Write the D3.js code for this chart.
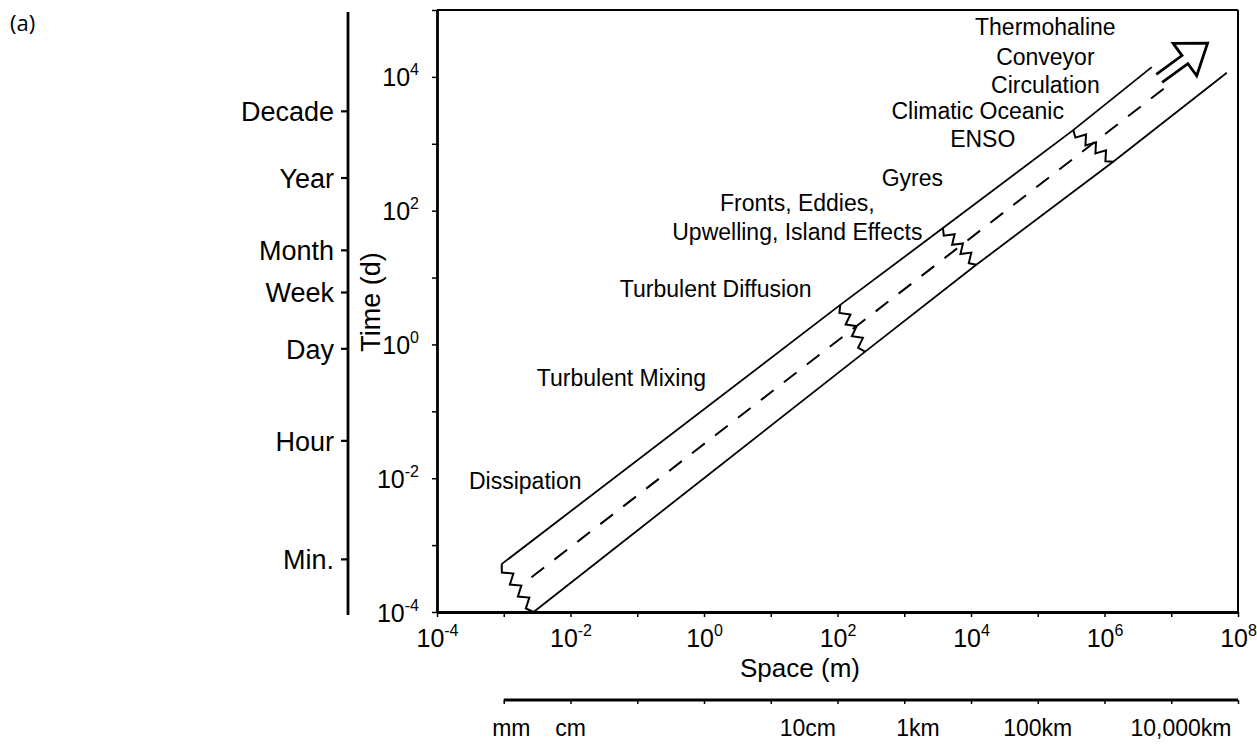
<!DOCTYPE html>
<html><head><meta charset="utf-8">
<script src="https://cdn.jsdelivr.net/npm/d3@7"></script>
<style>
body{margin:0;background:#fff;}
svg text{font-family:"Liberation Sans",Arial,sans-serif;fill:#000;}
</style></head><body>
<svg id="chart" width="1257" height="750"></svg>
<script>
// ---------- data ----------
const spaceTicks = [1e-4,1e-3,1e-2,1e-1,1,1e1,1e2,1e3,1e4,1e5,1e6,1e7,1e8];
const spaceLabelExps = [-4,-2,0,2,4,6,8];
const timeTicks = [1e-4,1e-3,1e-2,1e-1,1,1e1,1e2,1e3,1e4,1e5];
const timeLabelExps = [-4,-2,0,2,4];
const unitNames = ["Min.","Hour","Day","Week","Month","Year","Decade"];
const unitDays = [1/1440,1/24,1,7,30,365,3650];
const lengthNames = ["mm","cm","10cm","1km","100km","10,000km"];
const lengthPos = [1.3e-3,1e-2,36,1.6e3,1e5,1.4e7];
const lengthTicks = [1e-3,1e-2,1e-1,1,1e1,1e2,1e3,1e4,1e5,1e6,1e7,1e8];
// band edges (space m, time d); the first four points are the break points
const upperLine = [[9.3e-4,5.2e-4],[110,3.9],[3800,55],[3.4e5,1600],[5.1e6,1.4e4]];
const lowerLine = [[2.8e-3,1.0e-4],[260,0.78],[1.2e4,15.5],[1.35e6,540],[6.8e7,1.15e4]];
const centreLine = [[2.6e-3,3.3e-4],[9.5e6,7.8e3]];
const arrowFrom = [6.6e6,9.5e3];
const arrowTo = [3.5e7,3.2e4];
const annText = ["Dissipation","Turbulent Mixing","Turbulent Diffusion","Fronts, Eddies,","Upwelling, Island Effects","Gyres","Climatic Oceanic","ENSO","Thermohaline","Conveyor","Circulation"];
const annX = [2.1e-3,0.058,1.5,25,25,1320,1.26e4,1.5e4,1.3e5,1.3e5,1.3e5];
const annY = [9.1e-3,0.32,6.8,129,48,309,3090,1175,5.5e4,2.0e4,7.6e3];

// ---------- layout ----------
const L=437,R=1238,T=10,B=612;
const svg = d3.select("#chart");
const x = d3.scaleLog().domain([1e-4,1e8]).range([L,R]);
const y = d3.scaleLog().domain([1e-4,1e5]).range([B,T]);
const yT = d3.scaleLog().domain([1e-4,1e5]).range([615,15]);

function powLabel(sel, big, small, up){
  sel.each(function(d){
    const t=d3.select(this);
    t.append("tspan").style("font-size",big+"px").text("10");
    t.append("tspan").style("font-size",small+"px").attr("dy",-up).text(Math.round(Math.log10(d)));
  });
}

// panel label
svg.append("text").attr("x",10).attr("y",31).style("font-size","22px").style("font-family","'Open Sans',sans-serif").text("(a)");

// frame
svg.append("line").attr("x1",L).attr("x2",R).attr("y1",T).attr("y2",T).attr("stroke","#000").attr("stroke-width",2);
svg.append("line").attr("x1",R).attr("x2",R).attr("y1",T).attr("y2",B).attr("stroke","#000").attr("stroke-width",2);

// x axis
const gx = svg.append("g").attr("transform",`translate(0,${B})`)
  .call(d3.axisBottom(x).tickValues(spaceTicks).tickFormat("").tickSize(5).tickSizeOuter(0));
gx.select(".domain").attr("stroke-width",3);
gx.selectAll(".tick line").attr("stroke-width",1.5);
gx.selectAll(".tick").filter(d => spaceLabelExps.includes(Math.round(Math.log10(d))))
  .append("text").attr("y",35).attr("text-anchor","middle").attr("fill","#000")
  .call(powLabel,25,16,11);
svg.append("text").attr("x",800).attr("y",677).attr("text-anchor","middle").style("font-size","26px").text("Space (m)");

// y axis
const gy = svg.append("g").attr("transform",`translate(${L},0)`)
  .call(d3.axisLeft(y).tickValues(timeTicks).tickFormat("").tickSize(5).tickSizeOuter(0));
gy.select(".domain").attr("stroke-width",2.8);
gy.selectAll(".tick line").attr("stroke-width",1.5);
gy.selectAll(".tick").filter(d => timeLabelExps.includes(Math.round(Math.log10(d))))
  .append("text").attr("x",-18).attr("y",9).attr("text-anchor","end").attr("fill","#000")
  .call(powLabel,25,16,11);
svg.append("text").attr("transform","translate(380,302) rotate(-90)").attr("text-anchor","middle").style("font-size","27px").text("Time (d)");

// time units axis
const gt = svg.append("g").attr("transform","translate(348,0)")
  .call(d3.axisLeft(yT).tickValues(unitDays).tickFormat((d,i)=>unitNames[i]).tickSize(7).tickSizeOuter(0));
gt.select(".domain").attr("d","M0,12V615").attr("stroke-width",2.8);
gt.selectAll(".tick line").attr("stroke-width",2.2);
gt.selectAll(".tick text").attr("x",-14).attr("dy","0.36em").style("font-size","27px").attr("fill","#000");

// length axis
const gl = svg.append("g").attr("transform","translate(0,700)")
  .call(d3.axisBottom(x).tickValues(lengthTicks).tickFormat("").tickSize(4).tickSizeOuter(0));
gl.select(".domain").attr("d",`M${x(1e-3)},0H${x(1e8)}`).attr("stroke-width",3);
gl.selectAll(".tick line").attr("stroke-width",1.5);
svg.append("g").selectAll("text").data(lengthNames).join("text")
  .attr("x",(d,i)=>x(lengthPos[i])).attr("y",736).attr("text-anchor","middle")
  .style("font-size","23px").text(d=>d);

// band lines
const line = d3.line().x(d=>x(d[0])).y(d=>y(d[1]));
const band = svg.append("g").attr("fill","none").attr("stroke","#000");
band.append("path").attr("d",line(upperLine)).attr("stroke-width",1.8);
band.append("path").attr("d",line(lowerLine)).attr("stroke-width",1.8);
band.append("path").attr("d",line(centreLine)).attr("stroke-width",2).attr("stroke-dasharray","16,13");

// zigzag breaks
function zig(p,q,n,amp){
  const dx=q[0]-p[0], dy=q[1]-p[1], len=Math.hypot(dx,dy);
  const nx=-dy/len, ny=dx/len;
  const pts=[p];
  for(let i=1;i<2*n;i++){
    const t=i/(2*n), s=(i%2?1:-1)*amp;
    pts.push([p[0]+dx*t+nx*s, p[1]+dy*t+ny*s]);
  }
  pts.push(q);
  return d3.line()(pts);
}
for(let i=0;i<4;i++){
  const p=[x(upperLine[i][0]),y(upperLine[i][1])], q=[x(lowerLine[i][0]),y(lowerLine[i][1])];
  band.append("path").attr("d",zig(p,q,4,4.5)).attr("stroke-width",2);
}

// arrow
(function(){
  const a=[x(arrowFrom[0]),y(arrowFrom[1])], b=[x(arrowTo[0]),y(arrowTo[1])];
  const dx=b[0]-a[0], dy=b[1]-a[1], len=Math.hypot(dx,dy);
  const ux=dx/len, uy=dy/len, nx=-uy, ny=ux;
  const hl=28, sw=5, hw=20;
  const hb=[b[0]-ux*hl, b[1]-uy*hl];
  const P=(c,s)=>[c[0]+nx*s,c[1]+ny*s];
  const pts=[P(a,-sw),P(hb,-sw),P(hb,-hw),b,P(hb,hw),P(hb,sw),P(a,sw)];
  band.append("path").attr("d",d3.line()(pts)).attr("stroke-width",2.8).attr("stroke-linejoin","miter");
})();

// annotations
svg.append("g").selectAll("text").data(annText).join("text")
  .attr("x",(d,i)=>x(annX[i])).attr("y",(d,i)=>y(annY[i])).attr("dy","0.35em")
  .attr("text-anchor","middle").style("font-size","23px").text(d=>d);
</script>
</body></html>
